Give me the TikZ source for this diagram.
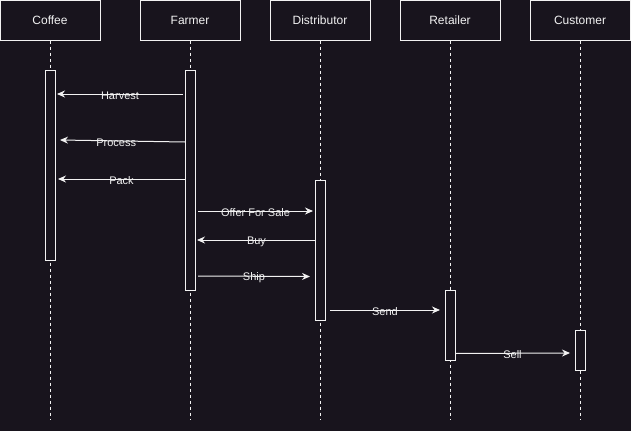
\documentclass[tikz,border=0pt]{standalone}
\usepackage{fontspec}
\setmainfont{Liberation Sans}
\usepackage{xcolor}
\usepackage{tikz}
\usetikzlibrary{arrows.meta}
\definecolor{bg}{HTML}{18141D}
\definecolor{text}{HTML}{F2F2F2}
\tikzset{
  head/.style={draw=text, line width=1pt, fill=bg, minimum width=100pt, minimum height=40pt, inner sep=0pt, text=text, font=\fontsize{12}{14}\selectfont},
  life/.style={draw=text, line width=1pt, dash pattern=on 3pt off 3pt},
  act/.style={draw=text, line width=1pt, fill=bg, minimum width=10pt, inner sep=0pt, anchor=north},
  msg/.style={draw=text, line width=1pt, -{Stealth[length=8pt,width=7pt]}},
  lab/.style={text=text, font=\fontsize{11}{13}\selectfont, inner sep=0pt, yshift=-1.5pt}
}
\begin{document}
\begin{tikzpicture}[x=1pt,y=-1pt]
  \fill[bg] (0,0) rectangle (631,431);
  \useasboundingbox (0,0) rectangle (631,431);
  % participants
  \node[head] (coffee) at (50,20) {Coffee};
  \node[head] (farmer) at (190,20) {Farmer};
  \node[head] (distributor) at (320,20) {Distributor};
  \node[head] (retailer) at (450,20) {Retailer};
  \node[head] (customer) at (580,20) {Customer};
  % lifelines
  \coordinate (coffeeEnd) at (50,420);
  \coordinate (farmerEnd) at (190,420);
  \coordinate (distributorEnd) at (320,420);
  \coordinate (retailerEnd) at (450,420);
  \coordinate (customerEnd) at (580,420);
  \draw[life] (coffee) -- (coffeeEnd);
  \draw[life] (farmer) -- (farmerEnd);
  \draw[life] (distributor) -- (distributorEnd);
  \draw[life] (retailer) -- (retailerEnd);
  \draw[life] (customer) -- (customerEnd);
  % activations
  \node[act, minimum height=190pt] (coffeeAct) at (50,70) {};
  \node[act, minimum height=220pt] (farmerAct) at (190,70) {};
  \node[act, minimum height=140pt] (distributorAct) at (320,180) {};
  \node[act, minimum height=70pt] (retailerAct) at (450,290) {};
  \node[act, minimum height=40pt] (customerAct) at (580,330) {};
  % messages
  \coordinate (harvestA) at (183,94);
  \coordinate (harvestB) at (57,94);
  \coordinate (processA) at (185,142);
  \coordinate (processB) at (60,140);
  \coordinate (packA) at (185,179);
  \coordinate (packB) at (58,179);
  \coordinate (offerA) at (198,211);
  \coordinate (offerB) at (313,211);
  \coordinate (buyA) at (316,240);
  \coordinate (buyB) at (197,240);
  \coordinate (shipA) at (198,276);
  \coordinate (shipB) at (310,276.5);
  \coordinate (sendA) at (330,310);
  \coordinate (sendB) at (440,310);
  \coordinate (sellA) at (455,353.5);
  \coordinate (sellB) at (570,353);
  \draw[msg] (harvestA) -- node[lab] {Harvest} (harvestB);
  \draw[msg] (processA) -- node[lab, pos=0.55] {Process} (processB);
  \draw[msg] (packA) -- node[lab] {Pack} (packB);
  \draw[msg] (offerA) -- node[lab] {Offer For Sale} (offerB);
  \draw[msg] (buyA) -- node[lab] {Buy} (buyB);
  \draw[msg] (shipA) -- node[lab] {Ship} (shipB);
  \draw[msg] (sendA) -- node[lab] {Send} (sendB);
  \draw[msg] (sellA) -- node[lab] {Sell} (sellB);
\end{tikzpicture}
\end{document}
